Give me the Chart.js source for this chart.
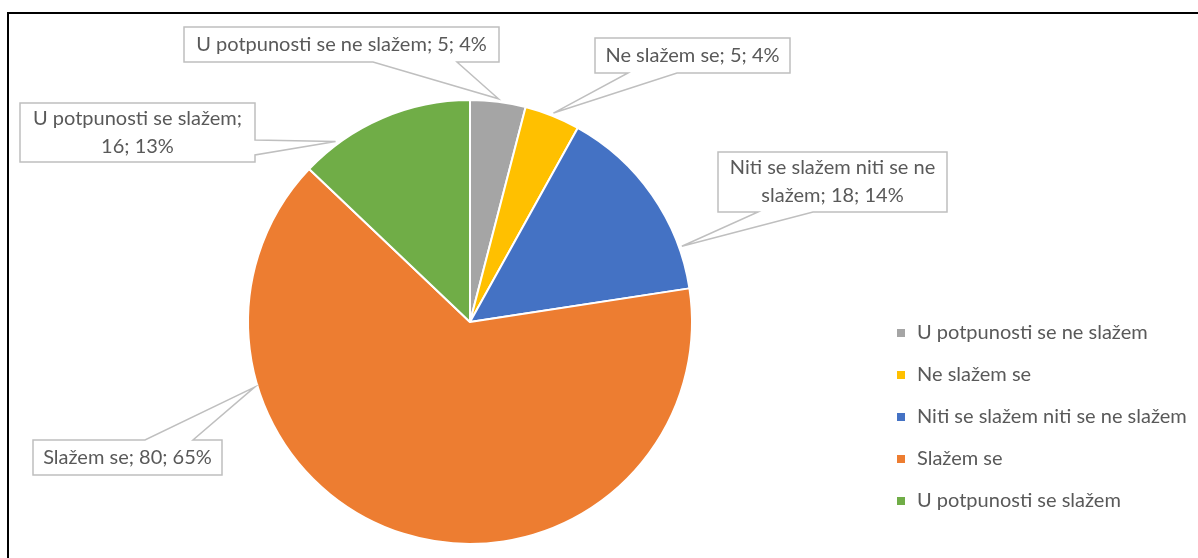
<!DOCTYPE html>
<html>
<head>
<meta charset="utf-8">
<script src="https://cdn.jsdelivr.net/npm/chart.js@4"></script>
<style>
  body { margin: 0; background: #fff; }
  #frame { position: absolute; left: 7px; top: 12px; width: 1300px; height: 700px;
           border-top: 2px solid #000; border-left: 2px solid #000; }
  #pieChart { position: absolute; left: 0; top: 0; }
</style>
</head>
<body>
<div id="frame"></div>
<canvas id="pieChart" width="1198" height="558"></canvas>
<script>
const categories = ['U potpunosti se ne slažem', 'Ne slažem se', 'Niti se slažem niti se ne slažem', 'Slažem se', 'U potpunosti se slažem'];
const counts = [5, 5, 18, 80, 16];
const percentLabels = ['4%', '4%', '14%', '65%', '13%'];
const sliceColors = ['#A5A5A5', '#FFC000', '#4472C4', '#ED7D31', '#70AD47'];

// callout boxes: [left, top, right, bottom], where the pointer leaves the box, and how far along the slice it points
const callouts = [
    { box: [184, 27, 499, 62], side: 'bottom', base: [373, 457], along: 0.5 },
    { box: [595, 38, 790, 73], side: 'bottom', base: [628, 677], along: 0.5 },
    { box: [718, 152, 947, 212], side: 'bottom', base: [758, 813], along: 0.79 },
    { box: [33, 440, 222, 475], side: 'top', base: [145, 193], along: 0.74 },
    { box: [20, 103, 255, 162], side: 'right', base: [140, 155], along: 0.21 }
];

const FONT = '20px Lato';
const TEXT_COLOR = '#595959';

function wrapText(ctx, text, maxWidth) {
    const words = text.split(' ');
    const lines = [];
    let line = '';
    words.forEach(w => {
        const test = line ? line + ' ' + w : w;
        if (line && ctx.measureText(test).width > maxWidth) {
            lines.push(line);
            line = w;
        } else {
            line = test;
        }
    });
    lines.push(line);
    return lines;
}

const calloutPlugin = {
    id: 'callouts',
    afterDraw(chart) {
        const ctx = chart.ctx;
        const arcs = chart.getDatasetMeta(0).data;
        ctx.save();
        ctx.font = FONT;
        arcs.forEach((arc, i) => {
            const c = callouts[i];
            const p = arc.getProps(['x', 'y', 'startAngle', 'endAngle', 'outerRadius'], true);
            const a = p.startAngle + c.along * (p.endAngle - p.startAngle);
            const tx = p.x + Math.cos(a) * (p.outerRadius + 3);
            const ty = p.y + Math.sin(a) * (p.outerRadius + 3);
            const [l, t, r, b] = c.box;

            ctx.beginPath();
            if (c.side === 'bottom') {
                ctx.moveTo(l, t); ctx.lineTo(r, t); ctx.lineTo(r, b);
                ctx.lineTo(c.base[1], b); ctx.lineTo(tx, ty); ctx.lineTo(c.base[0], b);
                ctx.lineTo(l, b);
            } else if (c.side === 'top') {
                ctx.moveTo(l, t); ctx.lineTo(c.base[0], t); ctx.lineTo(tx, ty);
                ctx.lineTo(c.base[1], t); ctx.lineTo(r, t); ctx.lineTo(r, b); ctx.lineTo(l, b);
            } else {
                ctx.moveTo(l, t); ctx.lineTo(r, t); ctx.lineTo(r, c.base[0]);
                ctx.lineTo(tx, ty); ctx.lineTo(r, c.base[1]); ctx.lineTo(r, b); ctx.lineTo(l, b);
            }
            ctx.closePath();
            ctx.fillStyle = '#fff';
            ctx.fill();
            ctx.strokeStyle = '#BFBFBF';
            ctx.lineWidth = 1.5;
            ctx.stroke();

            const text = categories[i] + '; ' + counts[i] + '; ' + percentLabels[i];
            const lines = wrapText(ctx, text, r - l - 10);
            const lh = 28;
            const cy = (t + b) / 2;
            ctx.fillStyle = TEXT_COLOR;
            ctx.textAlign = 'center';
            ctx.textBaseline = 'middle';
            lines.forEach((ln, k) => {
                ctx.fillText(ln, (l + r) / 2, cy + (k - (lines.length - 1) / 2) * lh);
            });
        });

        // legend
        const legendX = 897, legendY = 333, legendGap = 42;
        chart.data.labels.forEach((lab, i) => {
            const y = legendY + i * legendGap;
            ctx.fillStyle = chart.data.datasets[0].backgroundColor[i];
            ctx.fillRect(legendX, y - 4, 8, 8);
            ctx.fillStyle = TEXT_COLOR;
            ctx.textAlign = 'left';
            ctx.textBaseline = 'middle';
            ctx.fillText(lab, legendX + 20, y);
        });
        ctx.restore();
    }
};

const pieData = {
    labels: categories,
    datasets: [{
        data: counts,
        backgroundColor: sliceColors,
        borderColor: '#fff',
        borderWidth: 2
    }]
};

const pieConfig = {
    type: 'pie',
    data: pieData,
    options: {
        responsive: false,
        animation: false,
        devicePixelRatio: 1,
        layout: { padding: { left: 247, right: 505, top: 99, bottom: 13 } },
        plugins: {
            legend: { display: false },
            tooltip: { enabled: false }
        }
    },
    plugins: [calloutPlugin]
};

const pieChart = new Chart(document.getElementById('pieChart'), pieConfig);
</script>
</body>
</html>
